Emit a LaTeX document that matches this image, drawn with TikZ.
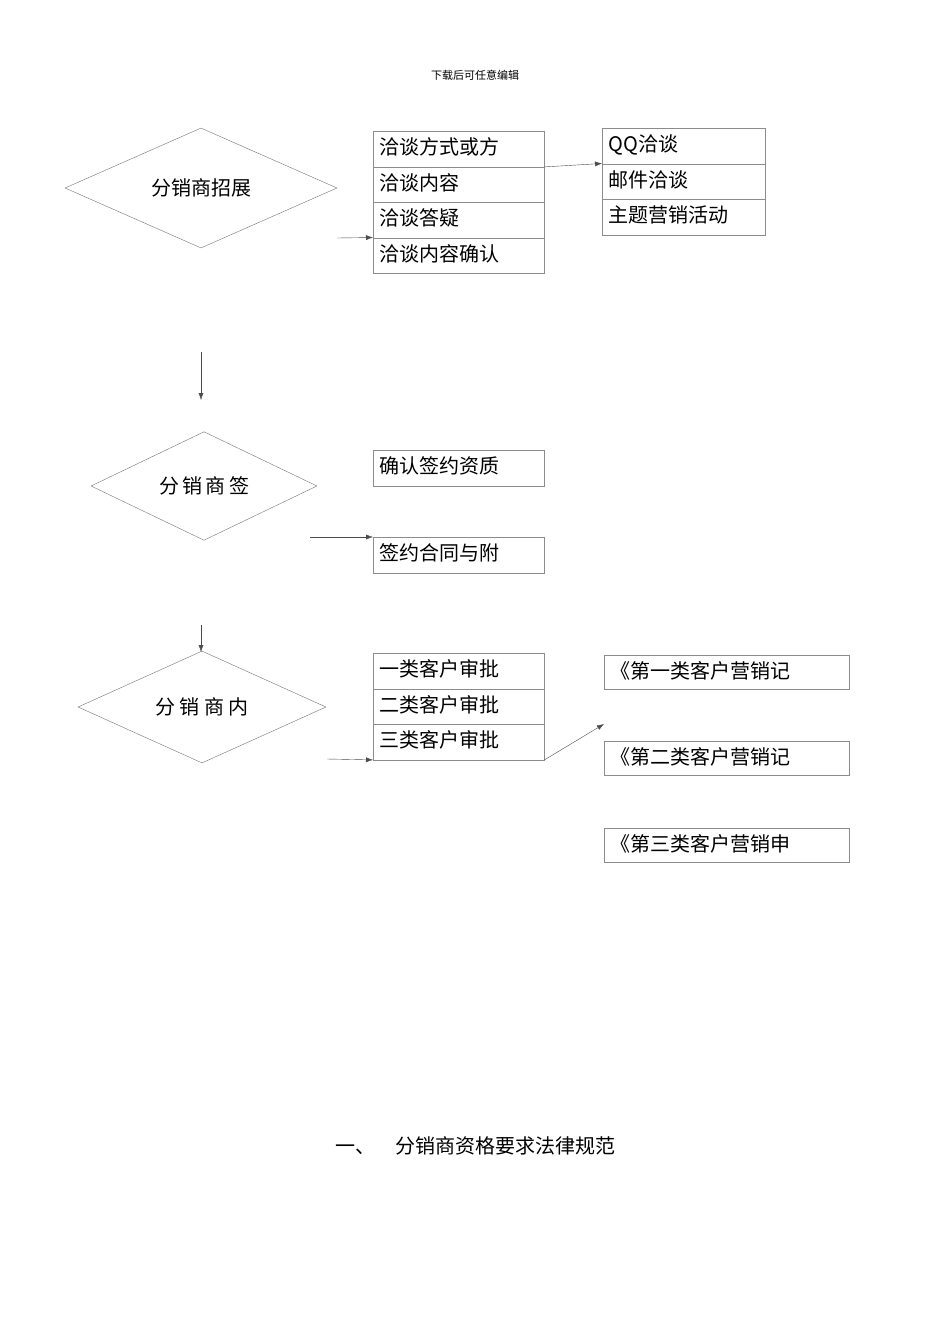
\documentclass[tikz,border=0pt]{standalone}
\usepackage{fontspec}
\setmainfont{Noto Sans CJK SC}
\usetikzlibrary{shapes.geometric,arrows.meta}
\begin{document}
\begin{tikzpicture}[x=1pt,y=-1pt,
  dia/.style={draw=black!55,diamond,inner sep=0pt,font=\fontsize{20}{22}\selectfont},
  bx/.style={draw=black!45,minimum height=35.5pt,inner sep=0pt,anchor=north west,text height=16pt,text depth=4pt,align=left,font=\fontsize{20}{22}\selectfont},
  arr/.style={draw=black!70,-{Latex[length=7pt,width=5pt]},line width=0.4pt}]
\useasboundingbox (0,0) rectangle (950,1344);
\node (hdr) at (475,75) {\fontsize{11}{12}\selectfont 下载后可任意编辑};
% diamond 1
\node[dia,minimum width=272pt,minimum height=120pt] (d1) at (201,188) {分销商招展};
\foreach \t/\y [count=\i] in {洽谈方式或方/131,洽谈内容/166.5,洽谈答疑/202,洽谈内容确认/237.5}
  \node[bx,minimum width=171pt,text width=158pt] (a\i) at (373,\y) {\t};
\foreach \t/\y [count=\i] in {QQ洽谈/128,邮件洽谈/163.5,主题营销活动/199}
  \node[bx,minimum width=163pt,text width=150pt] (b\i) at (602,\y) {\t};
\coordinate (c1) at (337,238);
\draw[arr] (c1) -- (a4.north west);
\draw[arr] (a1.south east) -- (b2.north west);
\coordinate (v1a) at (201,352); \coordinate (v1b) at (201,400);
\draw[arr] (v1a) -- (v1b);
% diamond 2
\node[dia,minimum width=226pt,minimum height=70pt] (d2) at (204,486) {分\,销\,商\,签};
\node[bx,minimum width=171pt,text width=158pt] (e1) at (373,450) {确认签约资质};
\node[bx,minimum width=171pt,text width=158pt] (e2) at (373,537) {签约合同与附};
\coordinate (c2) at (310,537);
\draw[arr] (c2) -- (e2.north west);
\coordinate (v2a) at (201,625); \coordinate (v2b) at (201,652);
\draw[arr] (v2a) -- (v2b);
% diamond 3
\node[dia,minimum width=248pt,minimum height=100pt] (d3) at (202,707) {分\ 销\ 商\ 内};
\foreach \t/\y [count=\i] in {一类客户审批/653,二类客户审批/688.5,三类客户审批/724}
  \node[bx,minimum width=171pt,text width=158pt] (f\i) at (373,\y) {\t};
\foreach \t/\y [count=\i] in {《第一类客户营销记/655,《第二类客户营销记/741,《第三类客户营销申/828}
  \node[bx,minimum width=245pt,minimum height=34pt,text width=232pt] (g\i) at (604,\y) {\t};
\coordinate (c3) at (327,759);
\draw[arr] (c3) -- (f3.south west);
\draw[arr] (f3.south east) -- ([yshift=17pt]g2.north west);
\node (ftr) at (475,1146) {\fontsize{20}{22}\selectfont 一、\quad 分销商资格要求法律规范};
\end{tikzpicture}
\end{document}
